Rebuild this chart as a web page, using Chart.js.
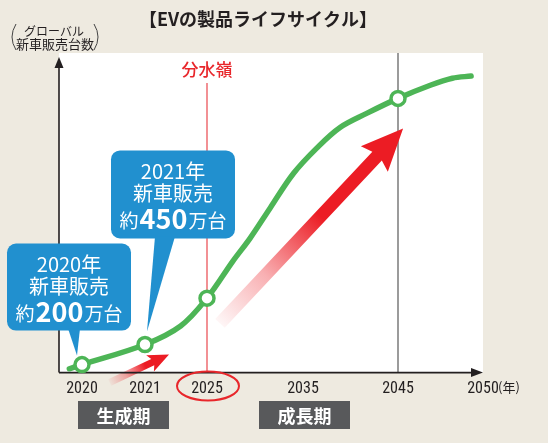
<!DOCTYPE html>
<html><head><meta charset="utf-8">
<script src="https://cdn.jsdelivr.net/npm/chart.js@4.4.1/dist/chart.umd.min.js"></script>
<style>
html,body{margin:0;padding:0;background:#eeeae0;}
#wrap{position:relative;width:548px;height:443px;}
</style></head><body>
<div id="wrap"><canvas id="c" width="548" height="443"></canvas></div>
<script>
// ---- data (y is a schematic index 0-100) ----
const tickYears = [2020, 2021, 2025, 2035, 2045, 2050];
const curveYears = [2019.45, 2020, 2021, 2023.3, 2025, 2027.7, 2029.5, 2031.6, 2034.0, 2036.5, 2038.9, 2041.7, 2045, 2046.9, 2048.2, 2049.3];
const curveValues = [1.2, 2.5, 8.8, 14.6, 23.3, 34.9, 42.1, 51.6, 62.3, 70.4, 76.7, 81.1, 85.8, 89.9, 92.1, 92.8];
const markerYears = [2020, 2021, 2025, 2045];
const calloutYears = [2020, 2021];
const calloutSales = ['200', '450'];
const phaseLabels = ['生成期', '成長期'];
const watershedYear = 2025;
const peakYear = 2045;
const arrowTails = [[2020.44, -3.1], [2026.35, 15.4]];
const arrowTips = [[2022.55, 5.7], [2045.3, 76.4]];

// ---- segmented (non-uniform) time axis ----
const AXIS_BREAKS = [2019, 2020, 2021, 2025, 2035, 2045, 2050];
const AXIS_WEIGHTS = [23, 63, 62, 96, 95, 85];
const AXIS_TOTAL = AXIS_WEIGHTS.reduce((a, b) => a + b, 0);
class SegmentedScale extends Chart.LinearScale {
  determineDataLimits() { this.min = AXIS_BREAKS[0]; this.max = AXIS_BREAKS[AXIS_BREAKS.length - 1]; }
  buildTicks() { return tickYears.map(v => ({ value: v })); }
  _frac(v) {
    let acc = 0;
    for (let i = 0; i < AXIS_WEIGHTS.length; i++) {
      if (v <= AXIS_BREAKS[i + 1] || i === AXIS_WEIGHTS.length - 1) {
        return (acc + (v - AXIS_BREAKS[i]) / (AXIS_BREAKS[i + 1] - AXIS_BREAKS[i]) * AXIS_WEIGHTS[i]) / AXIS_TOTAL;
      }
      acc += AXIS_WEIGHTS[i];
    }
  }
  getPixelForValue(v) { return this.getPixelForDecimal(this._frac(v)); }
  getValueForPixel(p) {
    const d = this.getDecimalForPixel(p) * AXIS_TOTAL;
    let acc = 0;
    for (let i = 0; i < AXIS_WEIGHTS.length; i++) {
      if (d <= acc + AXIS_WEIGHTS[i] || i === AXIS_WEIGHTS.length - 1) {
        return AXIS_BREAKS[i] + (d - acc) / AXIS_WEIGHTS[i] * (AXIS_BREAKS[i + 1] - AXIS_BREAKS[i]);
      }
      acc += AXIS_WEIGHTS[i];
    }
  }
}
SegmentedScale.id = 'segmented';
SegmentedScale.defaults = Chart.LinearScale.defaults;
Chart.register(SegmentedScale);

const JP = "'Noto Sans CJK JP', 'Noto Sans', sans-serif";
const GREEN = '#4db556';
const BLUE = '#2190cf';
const INK = '#231f20';

function arrow(ctx, x0, y0, x1, y1, shaftW, headL, headW, notch, solidAt) {
  const ang = Math.atan2(y1 - y0, x1 - x0);
  const len = Math.hypot(x1 - x0, y1 - y0);
  ctx.save();
  ctx.translate(x0, y0); ctx.rotate(ang);
  const g = ctx.createLinearGradient(0, 0, len, 0);
  g.addColorStop(0, 'rgba(236,28,36,0.04)');
  g.addColorStop(solidAt * 0.45, 'rgba(236,28,36,0.35)');
  g.addColorStop(solidAt, 'rgba(236,28,36,1)');
  g.addColorStop(1, 'rgba(236,28,36,1)');
  ctx.fillStyle = g;
  ctx.beginPath();
  ctx.moveTo(0, -shaftW / 2);
  ctx.lineTo(len - headL + notch, -shaftW / 2);
  ctx.lineTo(len - headL, -headW / 2);
  ctx.lineTo(len, 0);
  ctx.lineTo(len - headL, headW / 2);
  ctx.lineTo(len - headL + notch, shaftW / 2);
  ctx.lineTo(0, shaftW / 2);
  ctx.closePath();
  ctx.fill();
  ctx.restore();
}

function callout(ctx, px, py, cfg, year, sales) {
  const L = px + cfg.left, T = py + cfg.top, W = 124, H = cfg.h;
  ctx.save();
  ctx.fillStyle = BLUE;
  ctx.beginPath();
  ctx.roundRect(L, T, W, H, 9);
  ctx.fill();
  ctx.beginPath();
  ctx.moveTo(px + cfg.b0, T + H - 2);
  ctx.lineTo(px + cfg.b1, T + H - 2);
  ctx.lineTo(px + cfg.tx, py + cfg.ty);
  ctx.closePath();
  ctx.fill();
  ctx.fillStyle = '#ffffff';
  ctx.textAlign = 'center';
  ctx.textBaseline = 'middle';
  const cx = L + W / 2;
  ctx.font = '20px ' + JP;
  ctx.fillText(year + '年', cx, T + 21);
  ctx.fillText('新車販売', cx, T + 43);
  const fS = '19px ' + JP, fB = 'bold 27px ' + JP;
  ctx.font = fS; const w1 = ctx.measureText('約').width; const w3 = ctx.measureText('万台').width;
  ctx.font = fB; const w2 = ctx.measureText(sales).width;
  let x = cx - (w1 + w2 + w3 + 2) / 2;
  ctx.textAlign = 'left';
  ctx.font = fS; ctx.fillText('約', x, T + 70); x += w1 + 1;
  ctx.font = fB; ctx.fillText(sales, x, T + 68); x += w2 + 1;
  ctx.font = fS; ctx.fillText('万台', x, T + 70);
  ctx.restore();
}

const deco = {
  id: 'deco',
  beforeDraw(chart) {
    const { ctx, chartArea: a } = chart;
    ctx.save();
    ctx.fillStyle = '#eeeae0';
    ctx.fillRect(0, 0, chart.width, chart.height);
    ctx.fillStyle = '#ffffff';
    ctx.fillRect(a.left, a.top, a.right - a.left, a.bottom - a.top);
    ctx.restore();
  },
  beforeDatasetsDraw(chart) {
    const { ctx, chartArea: a, scales: { x, y } } = chart;
    ctx.save();
    const xw = x.getPixelForValue(watershedYear);
    ctx.strokeStyle = '#e9474e'; ctx.lineWidth = 1.2;
    ctx.beginPath(); ctx.moveTo(xw, 83); ctx.lineTo(xw, a.bottom); ctx.stroke();
    const xp = x.getPixelForValue(peakYear);
    ctx.strokeStyle = '#7a7a7a'; ctx.lineWidth = 1.5;
    ctx.beginPath(); ctx.moveTo(xp, a.top); ctx.lineTo(xp, a.bottom); ctx.stroke();
    const specs = [[7, 21, 18, 3, 0.6], [13, 42, 37, 4, 0.55]];
    arrowTails.forEach((t, i) => {
      const s = specs[i];
      arrow(ctx, x.getPixelForValue(t[0]), y.getPixelForValue(t[1]),
        x.getPixelForValue(arrowTips[i][0]), y.getPixelForValue(arrowTips[i][1]), s[0], s[1], s[2], s[3], s[4]);
    });
    ctx.strokeStyle = INK; ctx.fillStyle = INK; ctx.lineWidth = 1.6;
    ctx.beginPath(); ctx.moveTo(a.left, a.bottom); ctx.lineTo(a.left, a.top + 12); ctx.stroke();
    ctx.beginPath(); ctx.moveTo(a.left, a.top + 4); ctx.lineTo(a.left - 4.5, a.top + 15); ctx.lineTo(a.left + 4.5, a.top + 15); ctx.closePath(); ctx.fill();
    ctx.beginPath(); ctx.moveTo(a.left, a.bottom); ctx.lineTo(a.right - 8, a.bottom); ctx.stroke();
    ctx.beginPath(); ctx.moveTo(a.right, a.bottom); ctx.lineTo(a.right - 12, a.bottom - 4.5); ctx.lineTo(a.right - 12, a.bottom + 4.5); ctx.closePath(); ctx.fill();
    ctx.restore();
  },
  afterDraw(chart) {
    const { ctx, scales: { x, y } } = chart;
    ctx.save();
    ctx.fillStyle = INK; ctx.textAlign = 'center'; ctx.textBaseline = 'middle';
    ctx.font = 'bold 18px ' + JP;
    ctx.fillText('【EVの製品ライフサイクル】', 258, 19);
    ctx.font = '12px ' + JP;
    ctx.fillText('グローバル', 54, 31);
    ctx.font = '13px ' + JP;
    ctx.fillText('新車販売台数', 55, 44);
    ctx.strokeStyle = '#444'; ctx.lineWidth = 1;
    ctx.beginPath(); ctx.moveTo(16, 24); ctx.quadraticCurveTo(8, 37, 16, 50); ctx.stroke();
    ctx.beginPath(); ctx.moveTo(94, 24); ctx.quadraticCurveTo(102, 37, 94, 50); ctx.stroke();
    const xw = x.getPixelForValue(watershedYear);
    ctx.fillStyle = '#e8262b'; ctx.font = '500 17px ' + JP;
    ctx.fillText('分水嶺', xw, 70);
    ctx.strokeStyle = '#e8262b'; ctx.lineWidth = 2;
    ctx.beginPath(); ctx.ellipse(xw + 1, 386, 31, 14.5, 0, 0, Math.PI * 2); ctx.stroke();
    ctx.fillStyle = INK; ctx.textAlign = 'left'; ctx.font = '13px ' + JP;
    ctx.fillText('(年)', x.getPixelForValue(2050) + 15, 387);
    const boxes = [[78, 91], [259, 91]];
    phaseLabels.forEach((lab, i) => {
      ctx.fillStyle = '#58595b';
      ctx.fillRect(boxes[i][0], 401, boxes[i][1], 28);
      ctx.fillStyle = '#ffffff'; ctx.textAlign = 'center'; ctx.font = 'bold 18px ' + JP;
      ctx.fillText(lab, boxes[i][0] + boxes[i][1] / 2, 416);
    });
    const cfgs = [
      { left: -75, top: -121, h: 87, b0: -14, b1: -2, tx: -5, ty: -9 },
      { left: -34, top: -194, h: 88, b0: 10, b1: 30, tx: 2, ty: -13 }
    ];
    calloutYears.forEach((yr, i) => {
      const idx = curveYears.indexOf(yr);
      callout(ctx, x.getPixelForValue(yr), y.getPixelForValue(curveValues[idx]), cfgs[i], yr, calloutSales[i]);
    });
    ctx.restore();
  }
};

new Chart(document.getElementById('c'), {
  type: 'line',
  data: {
    datasets: [{
      data: curveYears.map((yr, i) => ({ x: yr, y: curveValues[i] })),
      borderColor: GREEN,
      borderWidth: 5.5,
      borderCapStyle: 'round',
      tension: 0.35,
      pointRadius: ctx => markerYears.includes(curveYears[ctx.dataIndex]) ? 7 : 0,
      pointBorderWidth: 3.5,
      pointBorderColor: GREEN,
      pointBackgroundColor: '#ffffff',
      clip: false
    }]
  },
  options: {
    responsive: false,
    animation: false,
    events: [],
    layout: { padding: { left: 59, right: 65, top: 53, bottom: 38.4 } },
    plugins: { legend: { display: false }, tooltip: { enabled: false }, title: { display: false } },
    scales: {
      x: {
        type: 'segmented',
        grid: { display: false, drawTicks: false },
        border: { display: false },
        ticks: {
          autoSkip: false, maxRotation: 0, padding: 6.4,
          color: INK,
          font: { family: "'Liberation Sans Narrow', 'Roboto Condensed', 'Roboto', sans-serif", size: 16 },
          callback: v => String(v)
        }
      },
      y: { type: 'linear', min: 0, max: 100, display: false }
    }
  },
  plugins: [deco]
});
</script>
</body></html>
